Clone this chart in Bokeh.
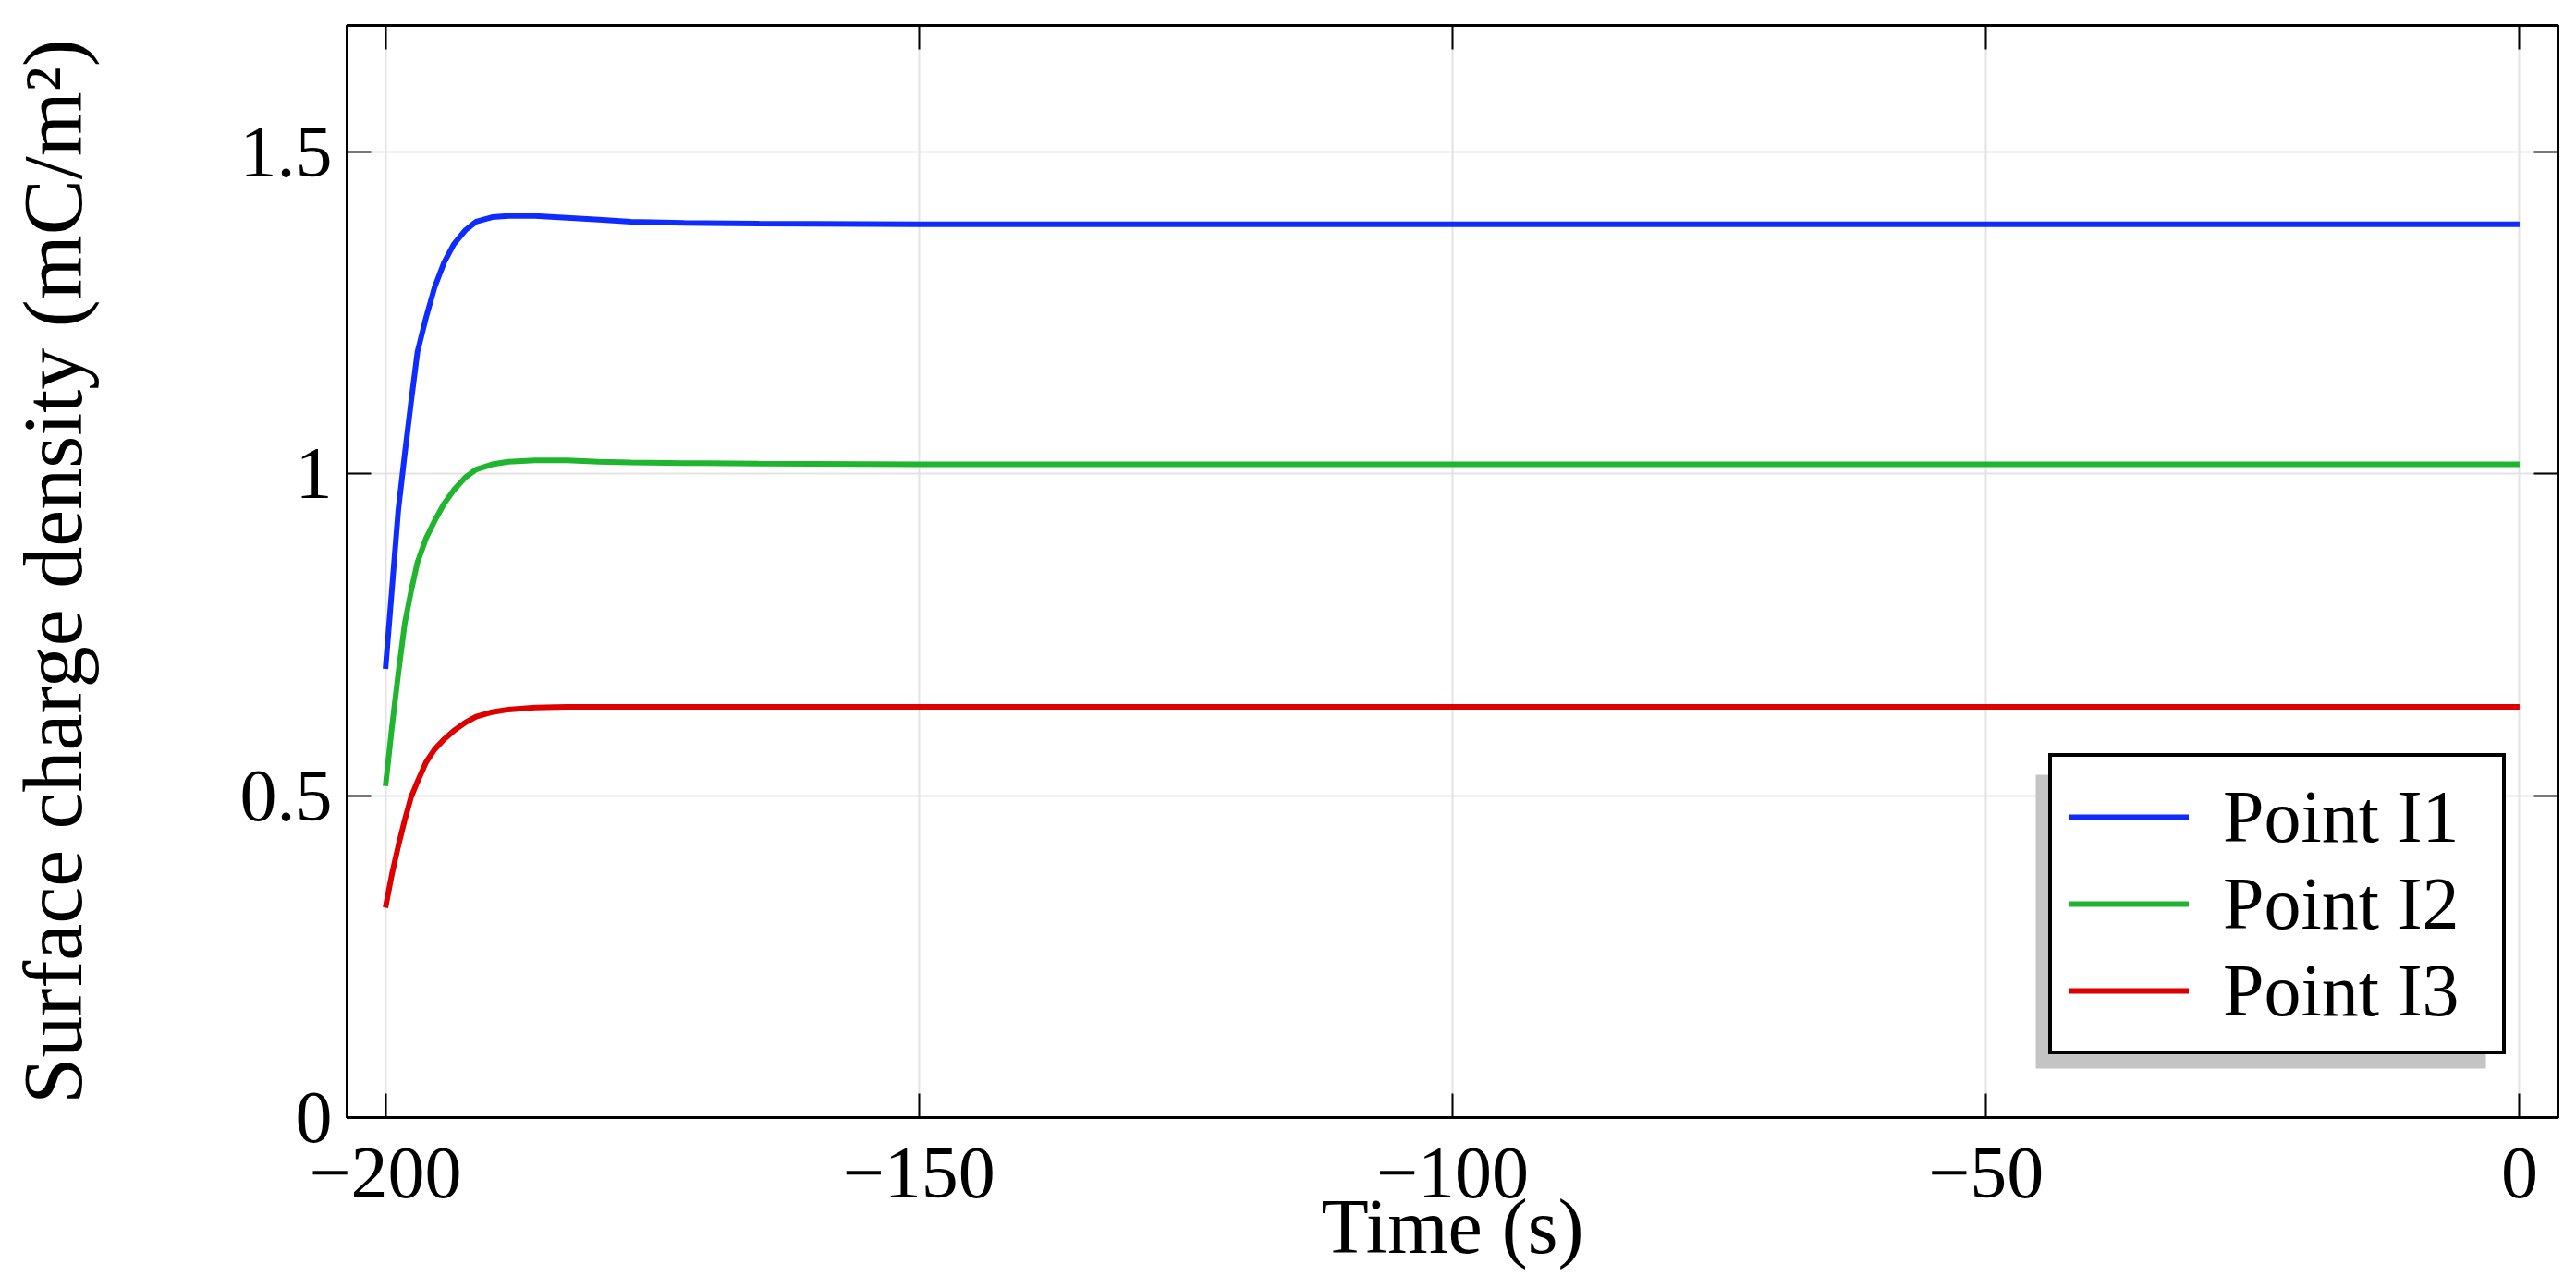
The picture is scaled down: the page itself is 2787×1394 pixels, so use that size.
from bokeh.plotting import figure
from bokeh.models import Range1d, LinearAxis, FixedTicker, Legend, LegendItem, BoxAnnotation
from bokeh.embed import file_html
from bokeh.resources import INLINE

# ---------------- data ----------------
time_s = [-200.0, -199.4, -198.8, -198.2, -197.6, -197.0, -196.2, -195.4, -194.5,
          -193.6, -192.5, -191.5, -190.0, -188.5, -186.0, -183.0, -180.0, -177.0,
          -172.0, -165.0, -150.0, -100.0, -50.0, 0.0]
point_i1 = [0.697, 0.820, 0.944, 1.030, 1.112, 1.190, 1.243, 1.290, 1.329,
            1.357, 1.379, 1.392, 1.399, 1.401, 1.401, 1.398, 1.395, 1.392,
            1.390, 1.389, 1.388, 1.388, 1.388, 1.388]
point_i2 = [0.515, 0.606, 0.690, 0.767, 0.818, 0.863, 0.900, 0.927, 0.954,
            0.975, 0.995, 1.007, 1.015, 1.019, 1.021, 1.021, 1.019, 1.018,
            1.017, 1.016, 1.015, 1.015, 1.015, 1.015]
point_i3 = [0.326, 0.378, 0.422, 0.462, 0.498, 0.522, 0.552, 0.572, 0.588,
            0.601, 0.614, 0.623, 0.630, 0.634, 0.637, 0.638, 0.638, 0.638,
            0.638, 0.638, 0.638, 0.638, 0.638, 0.638]
series_names = ["Point I1", "Point I2", "Point I3"]
series_colors = ["#0f2cff", "#20b52e", "#dc0000"]

x_ticks = [-200, -150, -100, -50, 0]
x_tick_labels = ["\u2212200", "\u2212150", "\u2212100", "\u221250", "0"]
y_ticks = [0, 0.5, 1, 1.5]
y_tick_labels = ["0", "0.5", "1", "1.5"]
x_label = "Time (s)"
y_label = "Surface charge density (mC/m\u00b2)"

# ---------------- layout / style ----------------
FONT = "Liberation Serif"
FS = "80px"
FW, FH = 2392, 1182
X0, X1 = -203.6, 3.6
Y0, Y1 = 0.0, 1.697

p = figure(frame_width=FW, frame_height=FH,
           x_range=Range1d(X0, X1), y_range=Range1d(Y0, Y1),
           output_backend="svg", toolbar_location=None,
           min_border_left=375, min_border_right=18, min_border_top=27, min_border_bottom=150,
           background_fill_color="white", border_fill_color="white",
           x_axis_label=x_label, y_axis_label=y_label)

p.outline_line_color = "black"
p.outline_line_width = 3


def style_axis(ax, ticks, labels, show_labels=True):
    ax.ticker = FixedTicker(ticks=ticks)
    ax.major_tick_in = 26
    ax.major_tick_out = 0
    ax.minor_tick_in = 0
    ax.minor_tick_out = 0
    ax.major_tick_line_color = "black"
    ax.major_tick_line_width = 2
    ax.axis_line_color = "black"
    ax.axis_line_width = 3
    ax.major_label_text_font = FONT
    ax.major_label_text_color = "black"
    if show_labels:
        ax.major_label_overrides = {t: l for t, l in zip(ticks, labels)}
        ax.major_label_text_font_size = FS
    else:
        ax.major_label_overrides = {t: "" for t in ticks}
        ax.major_label_text_font_size = "0px"
        ax.major_label_standoff = 0


xa = p.xaxis[0]
ya = p.yaxis[0]
style_axis(xa, x_ticks, x_tick_labels)
style_axis(ya, y_ticks, y_tick_labels)
xa.major_label_standoff = 33
ya.major_label_standoff = 16
for ax in (xa, ya):
    ax.axis_label_text_font = FONT
    ax.axis_label_text_font_style = "normal"
    ax.axis_label_text_color = "black"
xa.axis_label_text_font_size = "84px"
ya.axis_label_text_font_size = "90px"
xa.axis_label_standoff = -18
ya.axis_label_standoff = 150

top_ax = LinearAxis()
style_axis(top_ax, x_ticks, x_tick_labels, show_labels=False)
p.add_layout(top_ax, "above")
right_ax = LinearAxis()
style_axis(right_ax, y_ticks, y_tick_labels, show_labels=False)
p.add_layout(right_ax, "right")

p.xgrid.ticker = FixedTicker(ticks=x_ticks)
p.ygrid.ticker = FixedTicker(ticks=y_ticks)
for g in (p.xgrid, p.ygrid):
    g.grid_line_color = "#e3e3e3"
    g.grid_line_width = 2

renderers = []
for vals, col in zip([point_i1, point_i2, point_i3], series_colors):
    renderers.append(p.line(time_s, vals, line_color=col, line_width=6))

# legend box geometry (screen px from frame's bottom-left)
LEG_X, LEG_Y = 1841, 68
PAD, GW, GH, STAND, LW = 18, 130, 94, 37, 284
LEG_W = 2 * PAD + GW + STAND + LW
LEG_H = 2 * PAD + 3 * GH
SH_DX, SH_DY = -14, -15

px_x = FW / (X1 - X0)
px_y = FH / (Y1 - Y0)
shadow = BoxAnnotation(left=X0 + (LEG_X + SH_DX) / px_x,
                       right=X0 + (LEG_X + SH_DX + LEG_W) / px_x,
                       bottom=Y0 + (LEG_Y + SH_DY) / px_y,
                       top=Y0 + (LEG_Y + SH_DY + LEG_H) / px_y,
                       fill_color="#c4c4c4", fill_alpha=1.0, line_color=None)
p.add_layout(shadow)

legend = Legend(items=[LegendItem(label=n, renderers=[r]) for n, r in zip(series_names, renderers)],
                location=(LEG_X, LEG_Y), orientation="vertical",
                label_text_font=FONT, label_text_font_size=FS, label_text_color="black",
                glyph_width=GW, glyph_height=GH, label_height=GH, label_width=LW,
                label_standoff=STAND, padding=PAD, spacing=0, margin=0,
                border_line_color="black", border_line_width=4, border_line_alpha=1.0,
                background_fill_color="white", background_fill_alpha=1.0)
p.add_layout(legend)

open("out.html", "w").write(file_html(p, INLINE))
